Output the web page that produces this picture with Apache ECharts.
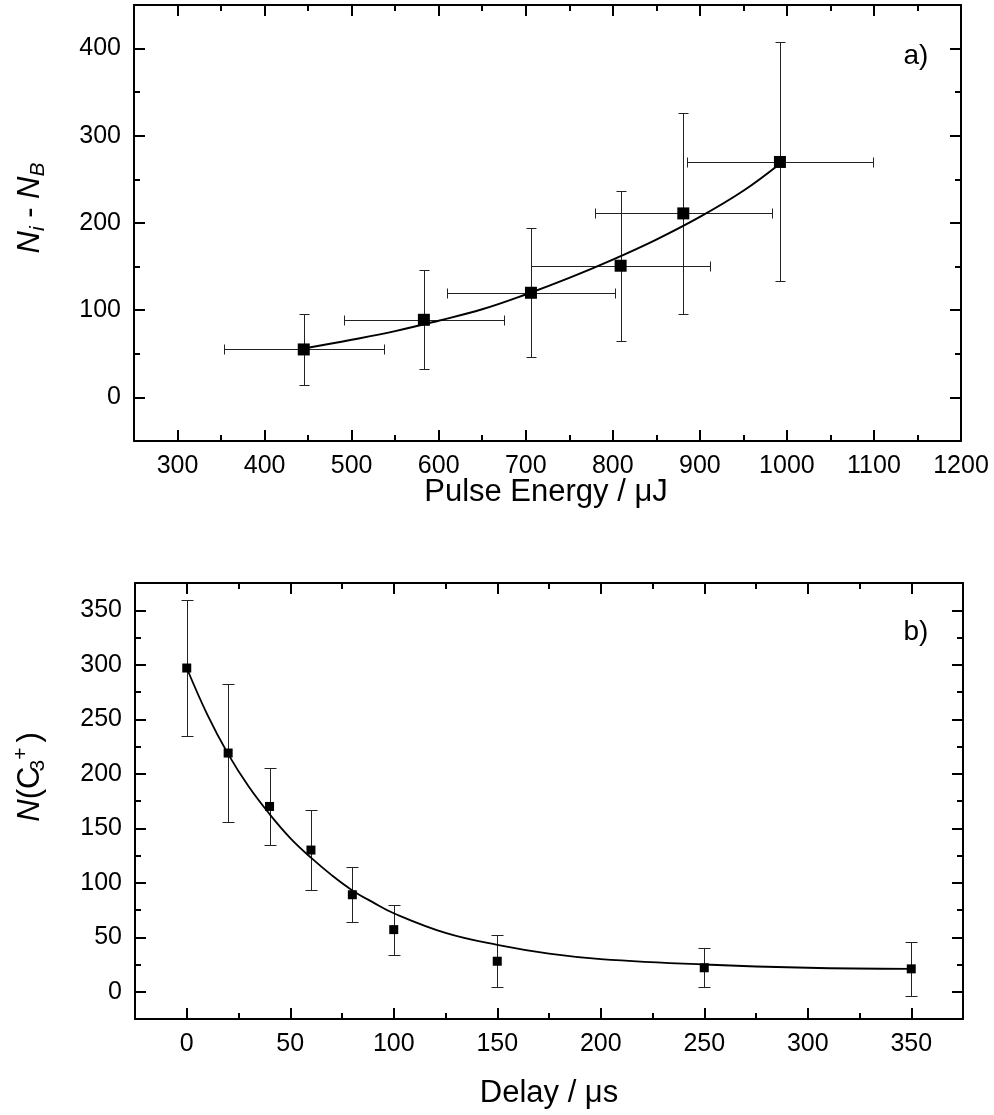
<!DOCTYPE html>
<html>
<head>
<meta charset="utf-8">
<script src="https://cdn.jsdelivr.net/npm/echarts@6/dist/echarts.min.js"></script>
<style>
    html, body { margin: 0; padding: 0; background: #fff; }
    #chart { width: 994px; height: 1115px; }
</style>
</head>
<body>
<div id="chart"></div>
<script>
/* ===== panel a: signal vs pulse energy ===== */
const pulseEnergy = [445, 583, 706, 809, 881, 992];
const energyErr   = [92, 92, 97, 103, 102, 107];
const signal      = [55, 89, 120, 151, 211, 270];
const signalErr   = [41, 57, 74, 86, 115, 137];

// fitted curve
const fitEnergy = [445, 500, 550, 600, 650, 700, 750, 800, 850, 900, 950, 992];
const fitSignal = [56, 66, 76, 88, 101, 118, 137, 158, 181, 207, 237, 268];

const energyTicks      = [300, 400, 500, 600, 700, 800, 900, 1000, 1100, 1200];
const energyMinorTicks = [350, 450, 550, 650, 750, 850, 950, 1050, 1150];
const signalTicks      = [0, 100, 200, 300, 400];
const signalMinorTicks = [50, 150, 250, 350];

/* ===== panel b: C3+ count vs delay ===== */
const delay     = [0, 20, 40, 60, 80, 100, 150, 250, 350];
const ionCount  = [297, 219, 170, 130, 89, 57, 28, 22, 21];
const countErr  = [62, 63, 35, 37, 25, 23, 24, 18, 25];

const fitDelay = [0, 10, 20, 30, 40, 50, 60, 70, 80, 90, 100, 125, 150, 175, 200, 250, 300, 350];
const fitCount = [297, 254, 218, 188, 163, 141, 123, 107, 93, 82, 72, 54, 43, 35, 30, 25, 22, 21];

const delayTicks      = [0, 50, 100, 150, 200, 250, 300, 350];
const delayMinorTicks = [25, 75, 125, 175, 225, 275, 325];
const countTicks      = [0, 50, 100, 150, 200, 250, 300, 350];
const countMinorTicks = [25, 75, 125, 175, 225, 275, 325];

const FONT = '"Liberation Sans", Arial, sans-serif';
const INK = "#000";

// one boxed side = major axis (ticks + labels) and a minor axis (short ticks only)
function sideAxes(grid, min, max, majors, minors, pos, labels) {
    const base = {
        type: "value", gridIndex: grid, min, max, position: pos,
        splitLine: { show: false },
    };
    return [
        {
            ...base,
            axisLine: { show: true, onZero: false, lineStyle: { color: INK, width: 2 } },
            axisTick: { show: true, inside: true, length: 11, customValues: majors,
                        lineStyle: { color: INK, width: 2 } },
            axisLabel: { show: labels, customValues: majors, margin: 13,
                         fontSize: 25, fontFamily: FONT, color: INK,
                         formatter: v => String(v) },
        },
        {
            ...base,
            axisLine: { show: false, onZero: false },
            axisTick: { show: true, inside: true, length: 6, customValues: minors,
                        lineStyle: { color: INK, width: 2 } },
            axisLabel: { show: false },
        },
    ];
}

function errorBars(capPx) {
    return function (params, api) {
        const x = api.value(0), y = api.value(1), xe = api.value(2), ye = api.value(3);
        const style = { stroke: "#222", lineWidth: 1 };
        const r = v => Math.round(v) + 0.5;
        const seg = (x1, y1, x2, y2) => ({ type: "line", shape: { x1: r(x1), y1: r(y1), x2: r(x2), y2: r(y2) }, style });
        const out = [];
        const top = api.coord([x, y + ye]);
        const bot = api.coord([x, y - ye]);
        out.push(seg(top[0], top[1], bot[0], bot[1]));
        out.push(seg(top[0] - capPx / 2, top[1], top[0] + capPx / 2, top[1]));
        out.push(seg(bot[0] - capPx / 2, bot[1], bot[0] + capPx / 2, bot[1]));
        if (xe > 0) {
            const lft = api.coord([x - xe, y]);
            const rgt = api.coord([x + xe, y]);
            out.push(seg(lft[0], lft[1], rgt[0], rgt[1]));
            out.push(seg(lft[0], lft[1] - capPx / 2, lft[0], lft[1] + capPx / 2));
            out.push(seg(rgt[0], rgt[1] - capPx / 2, rgt[0], rgt[1] + capPx / 2));
        }
        return { type: "group", children: out };
    };
}

const xAxes = [
    ...sideAxes(0, 250, 1200, energyTicks, energyMinorTicks, "bottom", true),
    ...sideAxes(0, 250, 1200, energyTicks, energyMinorTicks, "top", false),
    ...sideAxes(1, -25, 375, delayTicks, delayMinorTicks, "bottom", true),
    ...sideAxes(1, -25, 375, delayTicks, delayMinorTicks, "top", false),
];
const yAxes = [
    ...sideAxes(0, -50, 450, signalTicks, signalMinorTicks, "left", true),
    ...sideAxes(0, -50, 450, signalTicks, signalMinorTicks, "right", false),
    ...sideAxes(1, -25, 375, countTicks, countMinorTicks, "left", true),
    ...sideAxes(1, -25, 375, countTicks, countMinorTicks, "right", false),
];

const label = (text, x, y, size) => ({
    type: "text", x, y,
    style: { text, fill: INK, font: `${size}px ${FONT}`, textAlign: "center", textVerticalAlign: "middle" },
});

const richY = {
    it:  { fontSize: 31, fontStyle: "italic", fontFamily: FONT, fill: INK },
    n:   { fontSize: 31, fontFamily: FONT, fill: INK },
    sub: { fontSize: 21, fontStyle: "italic", fontFamily: FONT, fill: INK, padding: [16, 0, 0, 0] },
    s3:  { fontSize: 21, fontFamily: FONT, fill: INK, padding: [16, 0, 0, 0], width: 2 },
    sup: { fontSize: 21, fontFamily: FONT, fill: INK, padding: [0, 0, 18, 0], width: 22 },
};

const chart = echarts.init(document.getElementById("chart"), null, { renderer: "canvas" });
chart.setOption({
    animation: false,
    backgroundColor: "#fff",
    grid: [
        { left: 134, top: 5, width: 827, height: 436 },
        { left: 135, top: 583, width: 828, height: 436 },
    ],
    xAxis: xAxes,
    yAxis: yAxes,
    graphic: [
        label("a)", 916, 56, 28),
        label("b)", 916, 632, 28),
        label("Pulse Energy / μJ", 546, 492, 31),
        label("Delay / μs", 549, 1093, 31),
        {
            type: "text", x: 30, y: 208, rotation: Math.PI / 2,
            style: { text: "{it|N}{sub|i}{n| - }{it|N}{sub|B}", rich: richY, fill: INK,
                     font: `31px ${FONT}`, textAlign: "center", textVerticalAlign: "middle" },
        },
        {
            type: "text", x: 30, y: 777, rotation: Math.PI / 2,
            style: { text: "{it|N}{n|(C}{s3|3}{sup|+}{n|)}", rich: richY, fill: INK,
                     font: `31px ${FONT}`, textAlign: "center", textVerticalAlign: "middle" },
        },
    ],
    series: [
        {
            type: "custom", xAxisIndex: 0, yAxisIndex: 0,
            renderItem: errorBars(10),
            data: pulseEnergy.map((e, i) => [e, signal[i], energyErr[i], signalErr[i]]),
            z: 2,
        },
        {
            type: "line", xAxisIndex: 0, yAxisIndex: 0,
            data: fitEnergy.map((e, i) => [e, fitSignal[i]]),
            smooth: 0.4, showSymbol: false,
            lineStyle: { color: INK, width: 2 }, z: 3,
        },
        {
            type: "scatter", xAxisIndex: 0, yAxisIndex: 0,
            data: pulseEnergy.map((e, i) => [e, signal[i]]),
            symbol: "rect", symbolSize: 12, itemStyle: { color: INK, opacity: 1 }, z: 4,
        },
        {
            type: "custom", xAxisIndex: 4, yAxisIndex: 4,
            renderItem: errorBars(12),
            data: delay.map((d, i) => [d, ionCount[i], 0, countErr[i]]),
            z: 2,
        },
        {
            type: "line", xAxisIndex: 4, yAxisIndex: 4,
            data: fitDelay.map((d, i) => [d, fitCount[i]]),
            smooth: 0.4, showSymbol: false,
            lineStyle: { color: INK, width: 1.8 }, z: 3,
        },
        {
            type: "scatter", xAxisIndex: 4, yAxisIndex: 4,
            data: delay.map((d, i) => [d, ionCount[i]]),
            symbol: "rect", symbolSize: 9, itemStyle: { color: INK, opacity: 1 }, z: 4,
        },
    ],
});
</script>
</body>
</html>
